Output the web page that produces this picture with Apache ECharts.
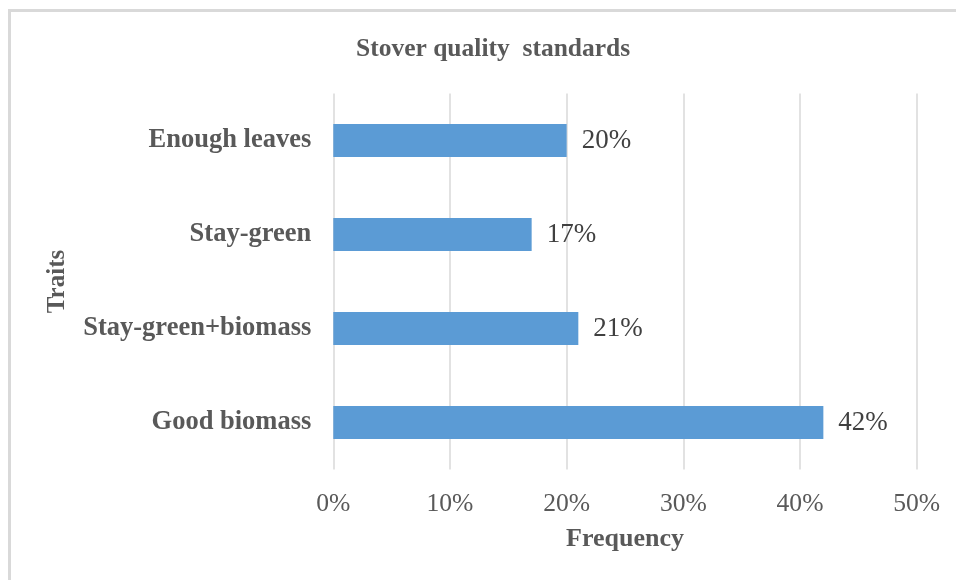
<!DOCTYPE html>
<html>
<head>
<meta charset="utf-8">
<title>Stover quality standards</title>
<script src="https://cdn.jsdelivr.net/npm/echarts@6/dist/echarts.min.js"></script>
<style>
  html, body { margin: 0; padding: 0; background: #ffffff; }
  #chart { width: 956px; height: 580px; }
</style>
</head>
<body>
<div id="chart"></div>
<script>
// Traits named by respondents as stover quality standards (share of answers, %)
const traits = ['Enough leaves', 'Stay-green', 'Stay-green+biomass', 'Good biomass'];
const frequency = [20, 17, 21, 42];
const frequencyTicks = [0, 10, 20, 30, 40, 50];

const serif = "'Liberation Serif', 'Times New Roman', serif";
const chart = echarts.init(document.getElementById('chart'), null, { renderer: 'canvas' });

chart.setOption({
  backgroundColor: '#ffffff',
  animation: false,
  title: {
    text: 'Stover quality  standards',
    left: 351,
    top: 31,
    textStyle: { fontFamily: serif, fontSize: 25.5, fontWeight: 'bold', color: '#595959' }
  },
  graphic: [{
    type: 'rect',
    shape: { x: 9.5, y: 10.5, width: 1200, height: 1000 },
    style: { fill: 'none', stroke: '#d9d9d9', lineWidth: 3 },
    silent: true
  }],
  grid: { left: 333.3, right: 39.3, top: 93.5, bottom: 110.5, containLabel: false },
  xAxis: {
    type: 'value',
    min: frequencyTicks[0],
    max: frequencyTicks[frequencyTicks.length - 1],
    interval: frequencyTicks[1] - frequencyTicks[0],
    name: 'Frequency',
    nameLocation: 'middle',
    nameGap: 57,
    nameTextStyle: { fontFamily: serif, fontSize: 26, fontWeight: 'bold', color: '#595959' },
    axisLine: { show: false },
    axisTick: { show: false },
    axisLabel: { formatter: '{value}%', margin: 22, fontFamily: serif, fontSize: 25.6, color: '#595959' },
    splitLine: { show: true, lineStyle: { color: '#d9d9d9', width: 1.5 } }
  },
  yAxis: {
    type: 'category',
    data: traits,
    inverse: true,
    name: 'Traits',
    nameLocation: 'middle',
    nameRotate: 90,
    nameGap: 263,
    nameTextStyle: { fontFamily: serif, fontSize: 25, fontWeight: 'bold', color: '#595959' },
    axisLine: { show: false },
    axisTick: { show: false },
    axisLabel: { margin: 22, fontFamily: serif, fontSize: 26.5, fontWeight: 'bold', color: '#595959' },
    splitLine: { show: false }
  },
  series: [{
    type: 'bar',
    data: frequency,
    barWidth: '35%',
    itemStyle: { color: '#5b9bd5' },
    label: {
      show: true,
      position: 'right',
      distance: 15,
      formatter: '{c}%',
      fontFamily: serif,
      fontSize: 27,
      color: '#404040'
    }
  }]
});
</script>
</body>
</html>
